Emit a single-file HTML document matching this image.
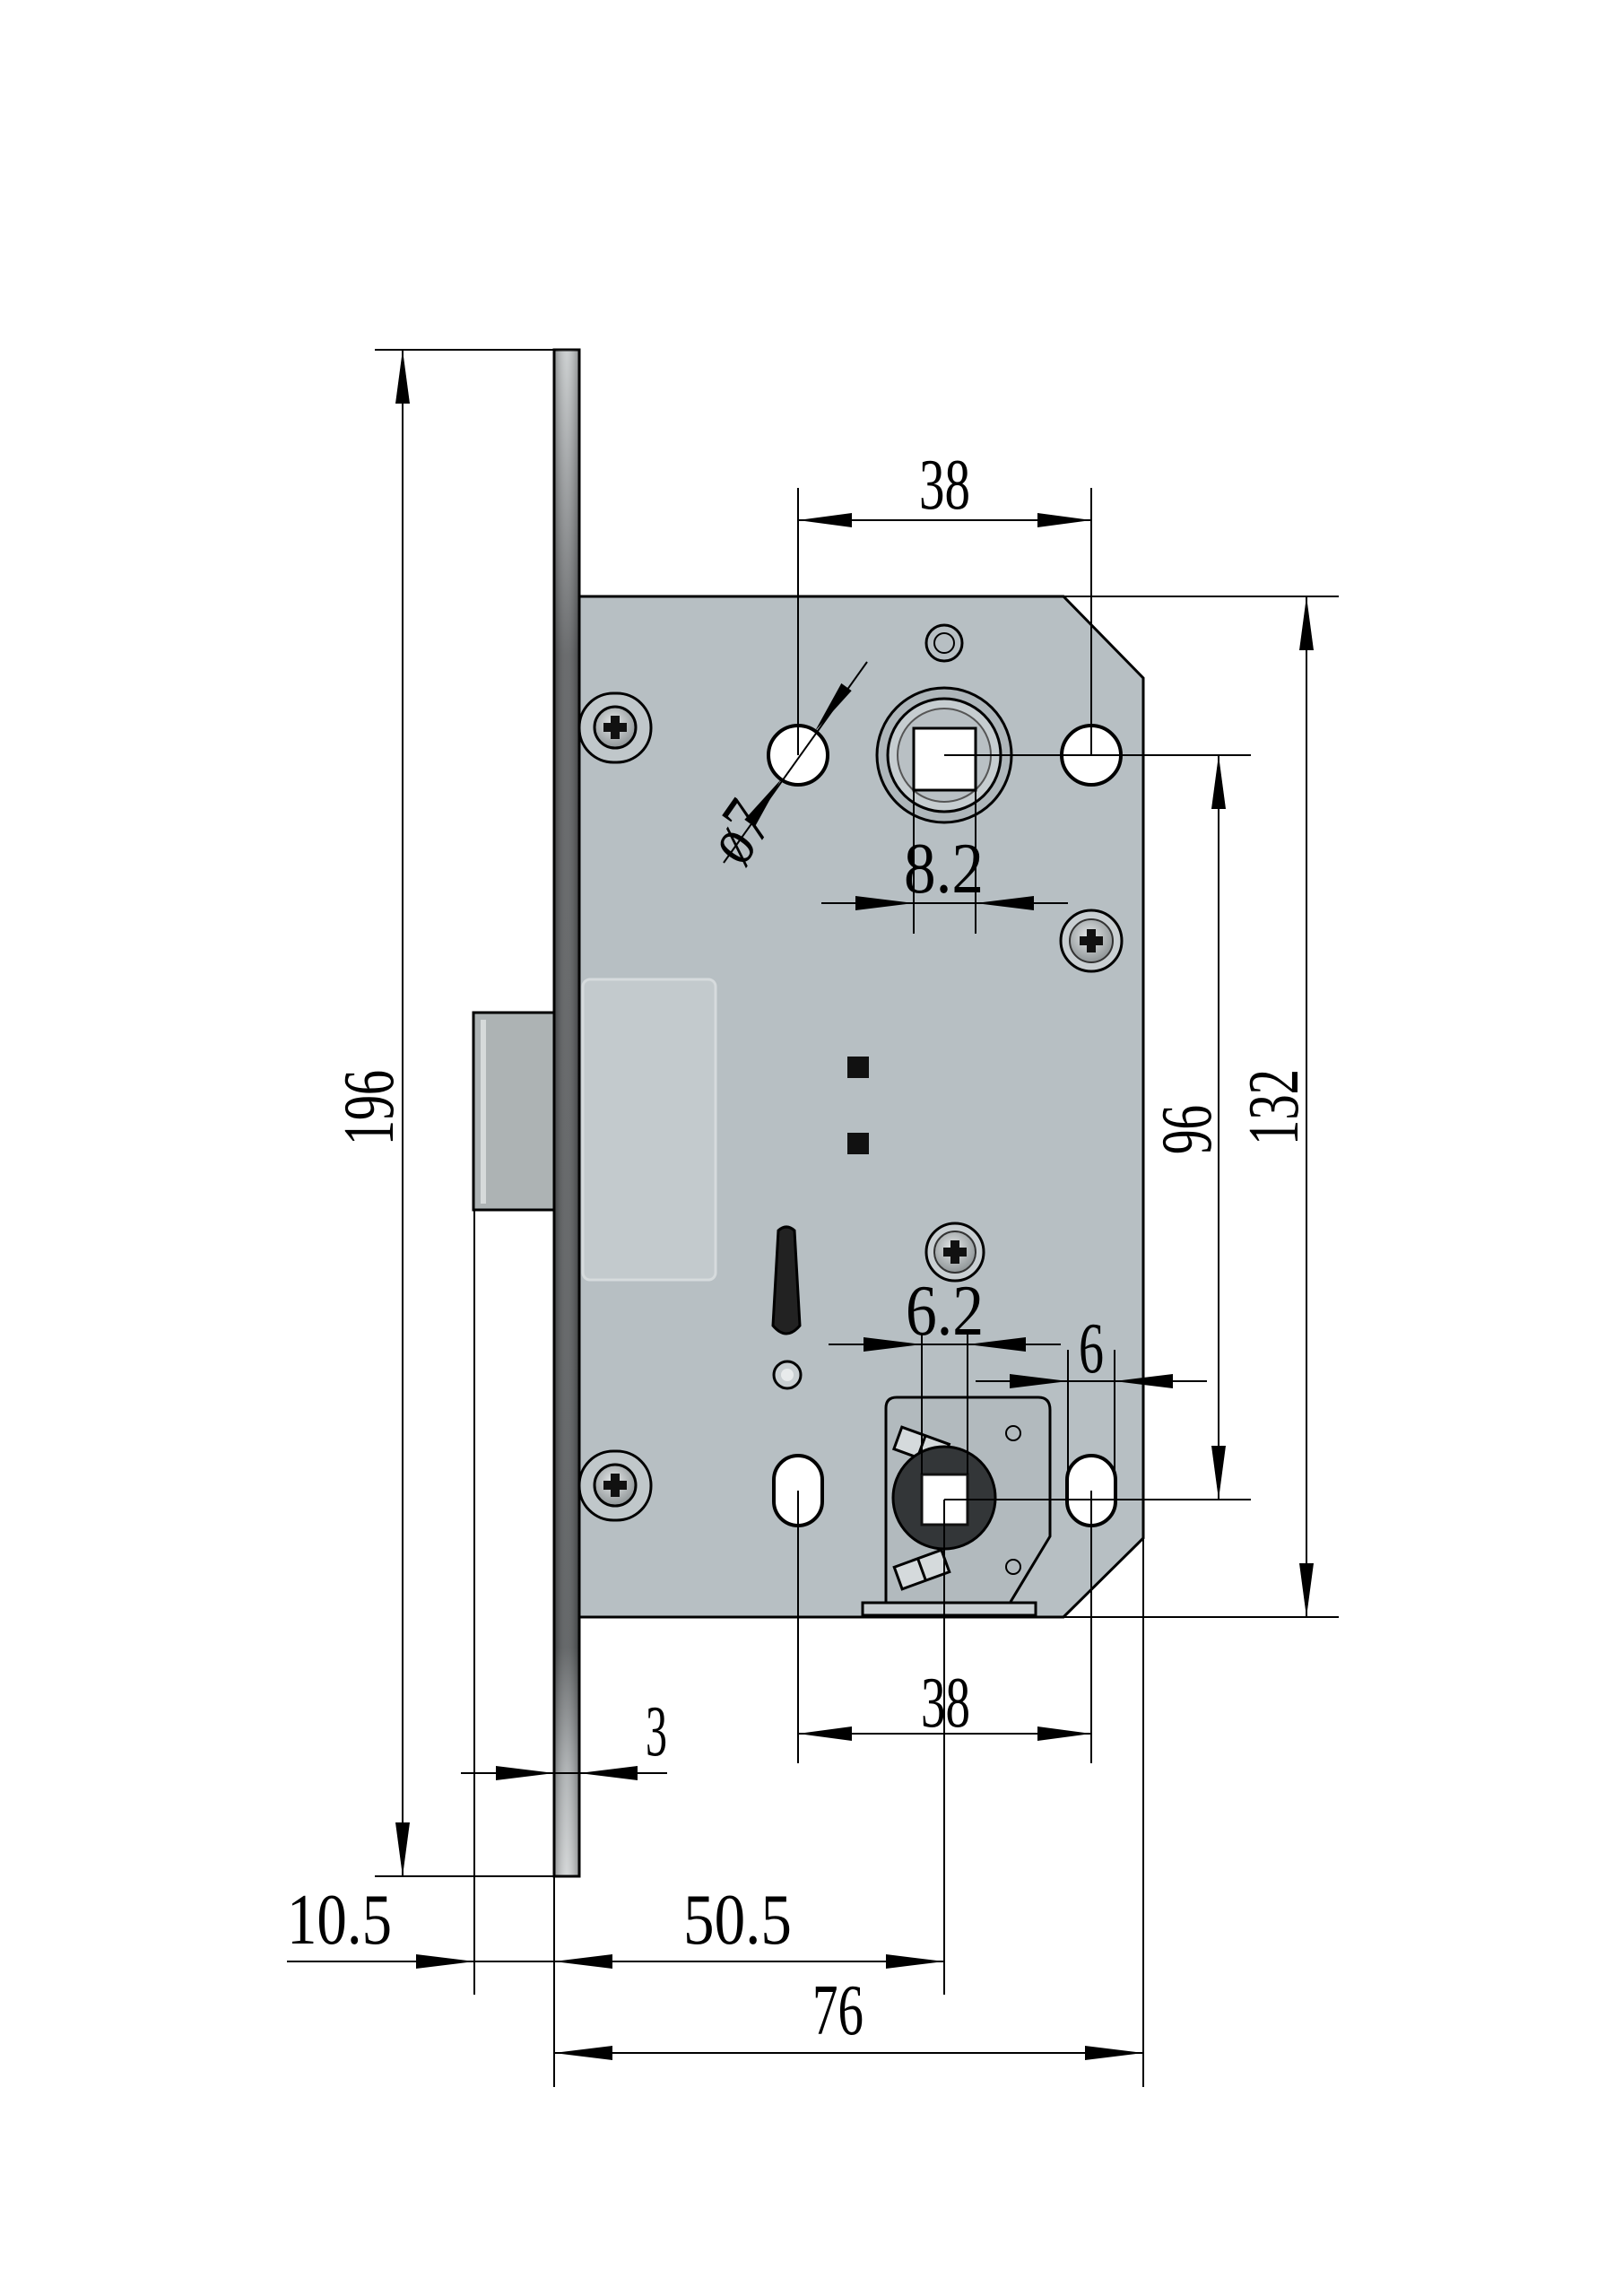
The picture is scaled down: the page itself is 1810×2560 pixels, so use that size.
<!DOCTYPE html>
<html><head><meta charset="utf-8"><style>
html,body{margin:0;padding:0;background:#fff;}
svg{display:block;}
text{font-family:"Liberation Serif",serif;fill:#000;}
</style></head><body>
<svg width="1810" height="2560" viewBox="0 0 1810 2560" xmlns="http://www.w3.org/2000/svg">
<defs>
<linearGradient id="fp" x1="0" y1="0" x2="0" y2="1">
<stop offset="0" stop-color="#c8cccd"/><stop offset="0.08" stop-color="#9a9d9f"/><stop offset="0.2" stop-color="#5a5c5e"/><stop offset="0.85" stop-color="#55585a"/><stop offset="0.93" stop-color="#a9adaf"/><stop offset="1" stop-color="#d0d3d4"/>
</linearGradient>
<linearGradient id="fpx" x1="0" y1="0" x2="1" y2="0">
<stop offset="0" stop-color="#000" stop-opacity="0.3"/><stop offset="0.5" stop-color="#fff" stop-opacity="0.1"/><stop offset="1" stop-color="#000" stop-opacity="0.3"/>
</linearGradient>
<radialGradient id="scr" cx="0.45" cy="0.4" r="0.6"><stop offset="0" stop-color="#e6e9ea"/><stop offset="1" stop-color="#8f9597"/></radialGradient>
</defs>

<!-- latch -->
<rect x="528" y="1129" width="92" height="220" fill="#adb3b4" stroke="#000" stroke-width="3"/>
<rect x="536" y="1137" width="6" height="205" fill="#d6dada"/>

<!-- body -->
<polygon points="646,665 1186,665 1275,756 1275,1715 1186,1803 646,1803" fill="#b7bfc3" stroke="#000" stroke-width="3"/>
<rect x="650" y="1092" width="148" height="335" rx="8" fill="#c3cacd" stroke="#d6dbdd" stroke-width="3"/>

<!-- faceplate -->
<rect x="618" y="390" width="28" height="1702" fill="url(#fp)" stroke="#000" stroke-width="3"/>
<rect x="618" y="390" width="28" height="1702" fill="url(#fpx)"/>

<!-- top features -->
<circle cx="1053" cy="717" r="20" fill="#b7bfc3" stroke="#000" stroke-width="3"/>
<circle cx="1053" cy="717" r="11" fill="none" stroke="#000" stroke-width="2"/>
<circle cx="890" cy="842" r="33" fill="#fff" stroke="#000" stroke-width="4"/>
<circle cx="1217" cy="842" r="33" fill="#fff" stroke="#000" stroke-width="4"/>
<circle cx="1053" cy="842" r="75" fill="#aeb6ba" stroke="#000" stroke-width="3"/>
<circle cx="1053" cy="842" r="63" fill="#c6cdd0" stroke="#000" stroke-width="3"/>
<circle cx="1053" cy="842" r="52" fill="#b9c0c4" stroke="#555" stroke-width="2"/>
<rect x="1019" y="812" width="69" height="69" fill="#fff" stroke="#000" stroke-width="3"/>

<!-- screws -->
<rect x="646" y="773" width="80" height="77" rx="38" fill="#c0c7ca" stroke="#000" stroke-width="3"/>
<circle cx="686" cy="811" r="23" fill="url(#scr)" stroke="#000" stroke-width="3"/>
<path d="M681 798h10v8h8v10h-8v8h-10v-8h-8v-10h8z" fill="#111"/>
<rect x="646" y="1618" width="80" height="77" rx="38" fill="#c0c7ca" stroke="#000" stroke-width="3"/>
<circle cx="686" cy="1656" r="23" fill="url(#scr)" stroke="#000" stroke-width="3"/>
<path d="M681 1643h10v8h8v10h-8v8h-10v-8h-8v-10h8z" fill="#111"/>
<circle cx="1217" cy="1049" r="34" fill="#c9cfd2" stroke="#000" stroke-width="3"/>
<circle cx="1217" cy="1049" r="24" fill="url(#scr)" stroke="#333" stroke-width="2"/>
<path d="M1212 1036h10v8h8v10h-8v8h-10v-8h-8v-10h8z" fill="#111"/>
<circle cx="1065" cy="1396" r="32" fill="#c9cfd2" stroke="#000" stroke-width="3"/>
<circle cx="1065" cy="1396" r="23" fill="url(#scr)" stroke="#333" stroke-width="2"/>
<path d="M1060 1383h10v8h8v10h-8v8h-10v-8h-8v-10h8z" fill="#111"/>

<!-- small squares -->
<rect x="945" y="1178" width="24" height="24" fill="#111"/>
<rect x="945" y="1263" width="24" height="24" fill="#111"/>

<!-- keyhole slot -->
<path d="M868 1372 Q877 1364 886 1372 L892 1478 Q877 1496 862 1478 Z" fill="#222" stroke="#000" stroke-width="3"/>
<circle cx="878" cy="1533" r="15" fill="#c9cfd2" stroke="#000" stroke-width="3"/>
<circle cx="878" cy="1533" r="7" fill="#e8ebec"/>

<!-- lower plate -->
<path d="M988 1790 L988 1570 Q988 1558 1000 1558 L1158 1558 Q1171 1558 1171 1572 L1171 1713 L1127 1786" fill="#b2babe" stroke="#000" stroke-width="3"/>
<rect x="962" y="1787" width="193" height="14" fill="#c8ced1" stroke="#000" stroke-width="3"/>
<g transform="rotate(20 1028 1612)"><rect x="1000" y="1600" width="56" height="26" fill="#d5dadc" stroke="#000" stroke-width="3"/><line x1="1028" y1="1600" x2="1028" y2="1626" stroke="#000" stroke-width="3"/></g>
<g transform="rotate(-20 1028 1750)"><rect x="1000" y="1737" width="56" height="26" fill="#d5dadc" stroke="#000" stroke-width="3"/><line x1="1028" y1="1737" x2="1028" y2="1763" stroke="#000" stroke-width="3"/></g>
<circle cx="1130" cy="1598" r="8" fill="none" stroke="#000" stroke-width="2"/>
<circle cx="1130" cy="1747" r="8" fill="none" stroke="#000" stroke-width="2"/>
<circle cx="1053" cy="1670" r="57" fill="#333638" stroke="#000" stroke-width="3"/>
<rect x="1028" y="1644" width="51" height="56" fill="#fff" stroke="#111" stroke-width="3"/>
<rect x="890" y="1623" width="54" height="78" rx="27" transform="translate(-27 0)" fill="#fff" stroke="#000" stroke-width="4"/>
<rect x="1190" y="1623" width="54" height="78" rx="27" fill="#fff" stroke="#000" stroke-width="4"/>

<!-- dimension lines -->
<g stroke="#000" stroke-width="2" fill="none">
<!-- 196 -->
<line x1="449" y1="390" x2="449" y2="2092"/>
<line x1="418" y1="390" x2="620" y2="390"/>
<line x1="418" y1="2092" x2="646" y2="2092"/>
<!-- 38 top -->
<line x1="890" y1="544" x2="890" y2="842"/>
<line x1="1217" y1="544" x2="1217" y2="842"/>
<line x1="890" y1="580" x2="1217" y2="580"/>
<!-- 132 / 96 -->
<line x1="1186" y1="665" x2="1493" y2="665"/>
<line x1="1457" y1="665" x2="1457" y2="1803"/>
<line x1="1154" y1="1803" x2="1493" y2="1803"/>
<line x1="1053" y1="842" x2="1395" y2="842"/>
<line x1="1053" y1="1672" x2="1395" y2="1672"/>
<line x1="1359" y1="842" x2="1359" y2="1672"/>
<!-- 8.2 -->
<line x1="1019" y1="881" x2="1019" y2="1041"/>
<line x1="1088" y1="881" x2="1088" y2="1041"/>
<line x1="916" y1="1007" x2="1191" y2="1007"/>
<!-- 6.2 -->
<line x1="1028" y1="1488" x2="1028" y2="1644"/>
<line x1="1079" y1="1488" x2="1079" y2="1644"/>
<line x1="924" y1="1499" x2="1183" y2="1499"/>
<!-- 6 -->
<line x1="1191" y1="1505" x2="1191" y2="1660"/>
<line x1="1243" y1="1505" x2="1243" y2="1660"/>
<line x1="1088" y1="1540" x2="1346" y2="1540"/>
<!-- Ø7 -->
<line x1="807" y1="962" x2="967" y2="738"/>
<!-- 38 bottom -->
<line x1="890" y1="1662" x2="890" y2="1966"/>
<line x1="1217" y1="1662" x2="1217" y2="1966"/>
<line x1="890" y1="1933" x2="1217" y2="1933"/>
<line x1="1053" y1="1672" x2="1053" y2="2224"/>
<!-- 3 -->
<line x1="514" y1="1977" x2="744" y2="1977"/>
<!-- 10.5 / 50.5 -->
<line x1="529" y1="1349" x2="529" y2="2224"/>
<line x1="618" y1="2092" x2="618" y2="2327"/>
<line x1="320" y1="2187" x2="1053" y2="2187"/>
<!-- 76 -->
<line x1="1275" y1="1715" x2="1275" y2="2327"/>
<line x1="618" y1="2289" x2="1275" y2="2289"/>
</g>

<!-- arrowheads -->
<g fill="#000">
<polygon points="449,390 441,450 457,450"/>
<polygon points="449,2092 441,2032 457,2032"/>
<polygon points="890,580 950,572 950,588"/>
<polygon points="1217,580 1157,572 1157,588"/>
<polygon points="1457,665 1449,725 1465,725"/>
<polygon points="1457,1803 1449,1743 1465,1743"/>
<polygon points="1359,842 1351,902 1367,902"/>
<polygon points="1359,1672 1351,1612 1367,1612"/>
<polygon points="1019,1007 954,999 954,1015"/>
<polygon points="1088,1007 1153,999 1153,1015"/>
<polygon points="1028,1499 963,1491 963,1507"/>
<polygon points="1079,1499 1144,1491 1144,1507"/>
<polygon points="1191,1540 1126,1532 1126,1548"/>
<polygon points="1243,1540 1308,1532 1308,1548"/>
<polygon points="909,815 949.7,770.1 938.3,761.9"/>
<polygon points="871,869 841.7,922.1 830.3,913.9"/>
<polygon points="890,1933 950,1925 950,1941"/>
<polygon points="1217,1933 1157,1925 1157,1941"/>
<polygon points="618,1977 553,1969 553,1985"/>
<polygon points="646,1977 711,1969 711,1985"/>
<polygon points="529,2187 464,2179 464,2195"/>
<polygon points="618,2187 683,2179 683,2195"/>
<polygon points="1053,2187 988,2179 988,2195"/>
<polygon points="618,2289 683,2281 683,2297"/>
<polygon points="1275,2289 1210,2281 1210,2297"/>
</g>

<!-- labels -->
<g font-size="80">
<text x="1025" y="567" textLength="57" lengthAdjust="spacingAndGlyphs">38</text>
<text x="1008" y="995" textLength="89" lengthAdjust="spacingAndGlyphs">8.2</text>
<text x="1010" y="1488" textLength="87" lengthAdjust="spacingAndGlyphs">6.2</text>
<text x="1203" y="1530" textLength="28" lengthAdjust="spacingAndGlyphs">6</text>
<text x="1027" y="1925" textLength="55" lengthAdjust="spacingAndGlyphs">38</text>
<text x="720" y="1957" textLength="24" lengthAdjust="spacingAndGlyphs">3</text>
<text x="320" y="2167" textLength="117" lengthAdjust="spacingAndGlyphs">10.5</text>
<text x="762" y="2167" textLength="121" lengthAdjust="spacingAndGlyphs">50.5</text>
<text x="906" y="2268" textLength="57" lengthAdjust="spacingAndGlyphs">76</text>
<text transform="translate(438 1277) rotate(-90)" x="0" y="0" textLength="84" lengthAdjust="spacingAndGlyphs">196</text>
<text transform="translate(1350 1287) rotate(-90)" x="0" y="0" textLength="55" lengthAdjust="spacingAndGlyphs">96</text>
<text transform="translate(1447 1277) rotate(-90)" x="0" y="0" textLength="85" lengthAdjust="spacingAndGlyphs">132</text>
<text transform="translate(828 968) rotate(-55)" x="0" y="0" textLength="62" lengthAdjust="spacingAndGlyphs">ø7</text>
</g>
</svg>
</body></html>
